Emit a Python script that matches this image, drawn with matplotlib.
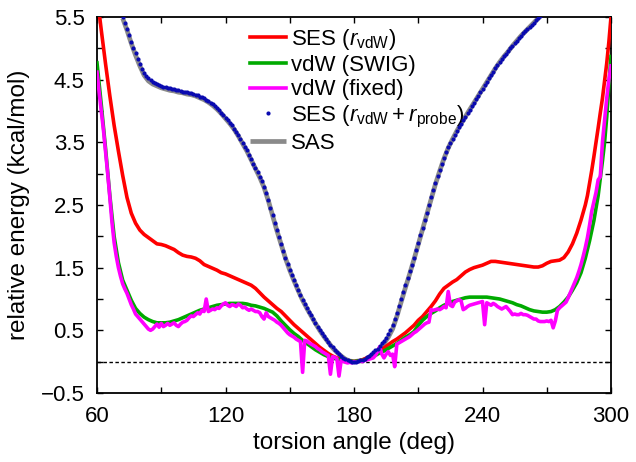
import numpy as np
import matplotlib
matplotlib.use("Agg")
import matplotlib.pyplot as plt
from matplotlib.ticker import MultipleLocator, FixedLocator, FuncFormatter

plt.rcParams['font.family'] = ['Liberation Sans', 'DejaVu Sans']
plt.rcParams['mathtext.fontset'] = 'custom'
plt.rcParams['mathtext.rm'] = 'Liberation Sans'
plt.rcParams['mathtext.it'] = 'Liberation Sans:italic'
plt.rcParams['mathtext.bf'] = 'Liberation Sans:bold'

# ---------------- data ----------------
# SES (r_vdW + r_probe): blue dots, 1-degree steps from 72 to 267
probe_x = list(range(72, 268))
probe_y = [5.50, 5.40, 5.31, 5.21, 5.10, 5.00, 4.92, 4.83, 4.75, 4.67,   # 72-81
           4.61, 4.56, 4.52, 4.49, 4.47, 4.45, 4.43, 4.41, 4.40, 4.39,   # 82-91
           4.38, 4.37, 4.36, 4.35, 4.35, 4.34, 4.33, 4.32, 4.31, 4.31,   # 92-101
           4.30, 4.29, 4.28, 4.27, 4.26, 4.25, 4.23, 4.22, 4.20, 4.18,   # 102-111
           4.16, 4.13, 4.11, 4.08, 4.04, 4.01, 3.97, 3.93, 3.89, 3.85,   # 112-121
           3.81, 3.77, 3.72, 3.67, 3.61, 3.55, 3.49, 3.43, 3.37, 3.30,   # 122-131
           3.23, 3.16, 3.09, 3.02, 2.95, 2.88, 2.79, 2.69, 2.58, 2.46,   # 132-141
           2.34, 2.22, 2.10, 1.99, 1.88, 1.77, 1.66, 1.56, 1.47, 1.38,   # 142-151
           1.30, 1.22, 1.14, 1.06, 0.99, 0.92, 0.86, 0.80, 0.74, 0.68,   # 152-161
           0.62, 0.56, 0.51, 0.46, 0.41, 0.36, 0.31, 0.27, 0.23, 0.19,   # 162-171
           0.15, 0.12, 0.09, 0.06, 0.04, 0.02, 0.01, 0.00, 0.00, 0.00,   # 172-181
           0.01, 0.02, 0.03, 0.05, 0.07, 0.09, 0.12, 0.15, 0.18, 0.21,   # 182-191
           0.25, 0.29, 0.33, 0.38, 0.44, 0.51, 0.59, 0.68, 0.78, 0.89,   # 192-201
           1.00, 1.11, 1.22, 1.33, 1.44, 1.55, 1.66, 1.78, 1.90, 2.02,   # 202-211
           2.14, 2.26, 2.38, 2.50, 2.62, 2.74, 2.85, 2.96, 3.06, 3.16,   # 212-221
           3.25, 3.34, 3.42, 3.49, 3.56, 3.62, 3.68, 3.74, 3.80, 3.86,   # 222-231
           3.91, 3.97, 4.02, 4.08, 4.13, 4.19, 4.24, 4.30, 4.35, 4.41,   # 232-241
           4.46, 4.52, 4.57, 4.63, 4.68, 4.73, 4.78, 4.83, 4.87, 4.91,   # 242-251
           4.95, 5.00, 5.04, 5.08, 5.12, 5.16, 5.20, 5.24, 5.27, 5.31,   # 252-261
           5.34, 5.38, 5.41, 5.45, 5.48, 5.52]                           # 262-267

# SAS: grey line, 2-degree steps from 72 to 268
sas_x = list(range(72, 270, 2))
sas_y = [5.48, 5.29, 5.08, 4.89, 4.72, 4.57, 4.48, 4.43, 4.40, 4.37,
         4.35, 4.33, 4.32, 4.30, 4.29, 4.27, 4.26, 4.24, 4.21, 4.18,
         4.14, 4.09, 4.03, 3.96, 3.88, 3.80, 3.71, 3.60, 3.48, 3.36,
         3.22, 3.08, 2.94, 2.78, 2.57, 2.33, 2.09, 1.87, 1.65, 1.46,
         1.29, 1.13, 0.98, 0.85, 0.73, 0.61, 0.50, 0.40, 0.31, 0.22,
         0.15, 0.09, 0.04, 0.01, 0.00, 0.01, 0.02, 0.05, 0.09, 0.14,
         0.21, 0.29, 0.39, 0.52, 0.72, 0.95, 1.18, 1.40, 1.63, 1.87,
         2.11, 2.35, 2.59, 2.83, 3.04, 3.24, 3.41, 3.55, 3.68, 3.80,
         3.91, 4.02, 4.13, 4.24, 4.35, 4.46, 4.57, 4.68, 4.78, 4.87,
         4.95, 5.04, 5.12, 5.20, 5.27, 5.34, 5.41, 5.48, 5.55]

# SES (r_vdW): red line
ses_x = [61, 62, 64, 66, 68, 70, 72, 74, 76, 78, 80, 82, 84, 86, 88, 90,
         92, 94, 96, 98, 100, 102, 104, 106, 108, 110, 112, 114, 116, 118,
         120, 122, 124, 126, 128, 130, 132, 134, 136, 138, 140, 142, 144,
         146, 148, 150, 152, 154, 156, 158, 160, 162, 164, 166, 168, 170,
         172, 174, 176, 178, 180, 182, 184, 186, 188, 190, 192, 194, 196,
         198, 200, 202, 204, 206, 208, 210, 212, 214, 216, 218, 220, 222,
         224, 226, 228, 230, 232, 234, 236, 238, 240, 242, 244, 246, 248,
         250, 252, 254, 256, 258, 260, 262, 264, 266, 268, 270, 272, 274,
         276, 278, 280, 282, 284, 286, 288, 289, 290, 291, 292, 293, 294,
         295, 296, 297, 298, 299, 300]
ses_y = [5.57, 5.29, 4.75, 4.24, 3.77, 3.36, 2.97, 2.62, 2.37, 2.21, 2.10,
         2.03, 1.98, 1.93, 1.88, 1.87, 1.85, 1.82, 1.79, 1.74, 1.70, 1.68,
         1.67, 1.65, 1.61, 1.55, 1.52, 1.49, 1.46, 1.42, 1.40, 1.37, 1.34,
         1.31, 1.28, 1.25, 1.22, 1.17, 1.10, 1.03, 0.97, 0.91, 0.85, 0.80,
         0.73, 0.66, 0.59, 0.53, 0.47, 0.41, 0.35, 0.29, 0.23, 0.18, 0.13,
         0.09, 0.06, 0.04, 0.02, 0.01, 0.00, 0.01, 0.03, 0.06, 0.09, 0.13,
         0.17, 0.22, 0.27, 0.32, 0.36, 0.41, 0.46, 0.52, 0.58, 0.66, 0.72,
         0.80, 0.88, 0.97, 1.08, 1.17, 1.22, 1.27, 1.31, 1.37, 1.43, 1.47,
         1.50, 1.52, 1.54, 1.57, 1.60, 1.60, 1.59, 1.58, 1.57, 1.56, 1.55,
         1.54, 1.53, 1.52, 1.51, 1.51, 1.53, 1.57, 1.60, 1.61, 1.62, 1.66,
         1.75, 1.88, 2.05, 2.26, 2.50, 2.65, 2.85, 3.05, 3.27, 3.50, 3.73,
         3.97, 4.20, 4.48, 4.76, 5.10, 5.50]

# vdW (SWIG): green line
swig_x = [60, 62, 64, 66, 68, 70, 72, 74, 76, 78, 80, 82, 84, 86, 88, 90,
          92, 94, 96, 98, 100, 102, 104, 106, 108, 110, 112, 114, 116, 118,
          120, 122, 124, 126, 128, 130, 132, 134, 136, 138, 140, 142, 144,
          146, 148, 150, 152, 154, 156, 158, 160, 162, 164, 166, 168, 170,
          172, 174, 176, 178, 180, 182, 184, 186, 188, 190, 192, 194, 196,
          198, 200, 202, 204, 206, 208, 210, 212, 214, 216, 218, 220, 222,
          224, 226, 228, 230, 232, 234, 236, 238, 240, 242, 244, 246, 248,
          250, 252, 254, 256, 258, 260, 262, 264, 266, 268, 270, 272, 274,
          276, 278, 280, 282, 284, 286, 288, 290, 292, 294, 296, 297, 298,
          299, 300]
swig_y = [4.77, 4.10, 3.40, 2.65, 2.00, 1.58, 1.30, 1.14, 0.98, 0.85, 0.77,
          0.71, 0.67, 0.64, 0.62, 0.62, 0.62, 0.63, 0.65, 0.67, 0.70, 0.73,
          0.76, 0.79, 0.82, 0.84, 0.86, 0.88, 0.90, 0.91, 0.92, 0.93, 0.93,
          0.93, 0.93, 0.92, 0.90, 0.89, 0.87, 0.85, 0.82, 0.79, 0.73, 0.65,
          0.58, 0.51, 0.45, 0.40, 0.34, 0.29, 0.24, 0.19, 0.15, 0.11, 0.08,
          0.06, 0.04, 0.03, 0.02, 0.01, 0.00, 0.01, 0.02, 0.04, 0.07, 0.10,
          0.14, 0.17, 0.21, 0.25, 0.29, 0.34, 0.39, 0.43, 0.48, 0.58, 0.66,
          0.72, 0.77, 0.81, 0.86, 0.90, 0.93, 0.96, 0.98, 1.00, 1.02, 1.03,
          1.03, 1.03, 1.03, 1.03, 1.02, 1.01, 1.00, 0.98, 0.96, 0.94, 0.91,
          0.89, 0.86, 0.83, 0.81, 0.80, 0.79, 0.79, 0.80, 0.83, 0.88, 0.95,
          1.03, 1.14, 1.26, 1.42, 1.65, 1.93, 2.25, 2.65, 3.20, 3.50, 3.90,
          4.40, 4.87]

# vdW (fixed): magenta line, 1-degree steps from 60 to 300
fixed_x = list(range(60, 301))
fixed_y = [4.62, 4.30, 4.00, 3.70, 3.35, 3.00, 2.62, 2.22, 1.90, 1.68,   # 60-69
           1.50, 1.36, 1.24, 1.16, 1.09, 1.00, 0.91, 0.84, 0.76, 0.72,   # 70-79
           0.68, 0.64, 0.60, 0.56, 0.52, 0.50, 0.52, 0.56, 0.60, 0.55,   # 80-89
           0.61, 0.56, 0.58, 0.61, 0.58, 0.60, 0.62, 0.58, 0.56, 0.60,   # 90-99
           0.63, 0.64, 0.66, 0.70, 0.73, 0.72, 0.75, 0.78, 0.76, 0.82,   # 100-109
           0.80, 1.00, 0.80, 0.82, 0.84, 0.83, 0.86, 0.85, 0.89, 0.92,   # 110-119
           0.94, 0.90, 0.88, 0.91, 0.90, 0.88, 0.92, 0.90, 0.86, 0.87,   # 120-129
           0.84, 0.82, 0.84, 0.82, 0.80, 0.80, 0.78, 0.72, 0.68, 0.78,   # 130-139
           0.72, 0.70, 0.68, 0.66, 0.63, 0.61, 0.58, 0.54, 0.50, 0.46,   # 140-149
           0.43, 0.41, 0.39, 0.36, 0.34, 0.32, -0.17, 0.34, 0.33, 0.30,  # 150-159
           0.28, 0.26, 0.24, 0.21, 0.19, 0.16, 0.14, 0.12, 0.10, -0.20,  # 160-169
           0.08, 0.07, 0.05, -0.23, 0.02, 0.01, -0.01, -0.02, -0.01, -0.02,  # 170-179
           0.00, -0.01, 0.00, 0.01, 0.00, 0.02, 0.03, 0.04, 0.05, 0.06,  # 180-189
           0.10, 0.16, 0.24, 0.12, 0.06, 0.12, 0.16, 0.10, 0.12, -0.08,  # 190-199
           0.28, 0.30, 0.32, 0.34, 0.36, 0.38, 0.40, 0.43, 0.46, 0.48,   # 200-209
           0.51, 0.54, 0.57, 0.60, 0.62, 0.63, 0.83, 0.82, 0.83, 0.84,   # 210-219
           0.83, 0.85, 0.88, 0.86, 1.12, 0.90, 0.88, 0.95, 0.97, 0.99,   # 220-229
           0.97, 0.83, 0.85, 0.88, 0.90, 0.91, 0.92, 0.93, 0.94, 0.95,   # 230-239
           0.96, 0.59, 0.94, 0.92, 0.90, 0.93, 0.91, 0.88, 0.86, 0.84,   # 240-249
           0.86, 0.88, 0.84, 0.80, 0.75, 0.76, 0.75, 0.75, 0.77, 0.75,   # 250-259
           0.75, 0.74, 0.72, 0.70, 0.68, 0.68, 0.65, 0.64, 0.64, 0.64,   # 260-269
           0.65, 0.64, 0.66, 0.54, 0.65, 0.82, 0.86, 0.89, 0.92, 0.95,   # 270-279
           1.02, 1.10, 1.18, 1.26, 1.34, 1.44, 1.55, 1.68, 1.82, 1.98,   # 280-289
           2.18, 2.40, 2.55, 2.70, 2.90, 2.95, 3.50, 3.85, 4.20, 4.50,   # 290-299
           4.72]                                                          # 300

labels = [r'SES ($r_{\mathrm{vdW}}$)', 'vdW (SWIG)', 'vdW (fixed)',
          r'SES ($r_{\mathrm{vdW}} + r_{\mathrm{probe}}$)', 'SAS']
x_major = [60, 120, 180, 240, 300]
y_major = [-0.5, 0.5, 1.5, 2.5, 3.5, 4.5, 5.5]

# ---------------- figure ----------------
fig = plt.figure(figsize=(6.36, 4.62), dpi=100)
ax = fig.add_axes([97 / 636, 1 - 393 / 462, 514 / 636, 376 / 462])

ax.axhline(0, color='black', lw=1.0, ls=(0, (2.5, 1.8)), zorder=1)

h_sas, = ax.plot(sas_x, sas_y, color='#8a8a8a', lw=3.4, zorder=2,
                 solid_capstyle='butt')
h_ses, = ax.plot(ses_x, ses_y, color='#ff0000', lw=2.6, zorder=3)
h_swig, = ax.plot(swig_x, swig_y, color='#00aa00', lw=2.6, zorder=4)
h_fixed, = ax.plot(fixed_x, fixed_y, color='#ff00ff', lw=2.6, zorder=5)
h_probe, = ax.plot(probe_x, probe_y, ls='none', marker='o', ms=3.0,
                   mec='none', mfc='#0a0ab0', zorder=6)

ax.set_xlim(60, 300)
ax.set_ylim(-0.5, 5.5)

ax.xaxis.set_major_locator(FixedLocator(x_major))
ax.xaxis.set_minor_locator(MultipleLocator(30))
ax.yaxis.set_major_locator(FixedLocator(y_major))
ax.yaxis.set_minor_locator(MultipleLocator(1.0))
ax.yaxis.set_major_formatter(FuncFormatter(lambda v, p: f"{v:.1f}".replace('-', '\u2212')))
ax.xaxis.set_major_formatter(FuncFormatter(lambda v, p: f"{v:.0f}"))

ax.tick_params(which='both', direction='in', top=True, right=True,
               length=4, width=1.0, labelsize=16, pad=9)
for s in ax.spines.values():
    s.set_linewidth(1.3)

ax.set_xlabel('torsion angle (deg)', fontsize=17.5, labelpad=4)
ax.set_ylabel('relative energy (kcal/mol)', fontsize=17.5, labelpad=8)

leg = ax.legend([h_ses, h_swig, h_fixed, h_probe, h_sas], labels,
                loc='upper left', bbox_to_anchor=(0.294, 0.979),
                frameon=False, fontsize=16, handlelength=1.6,
                handletextpad=0.22, labelspacing=0.14, borderpad=0.1,
                borderaxespad=0.0, markerscale=1.0)

fig.savefig('out.png', dpi=100)
